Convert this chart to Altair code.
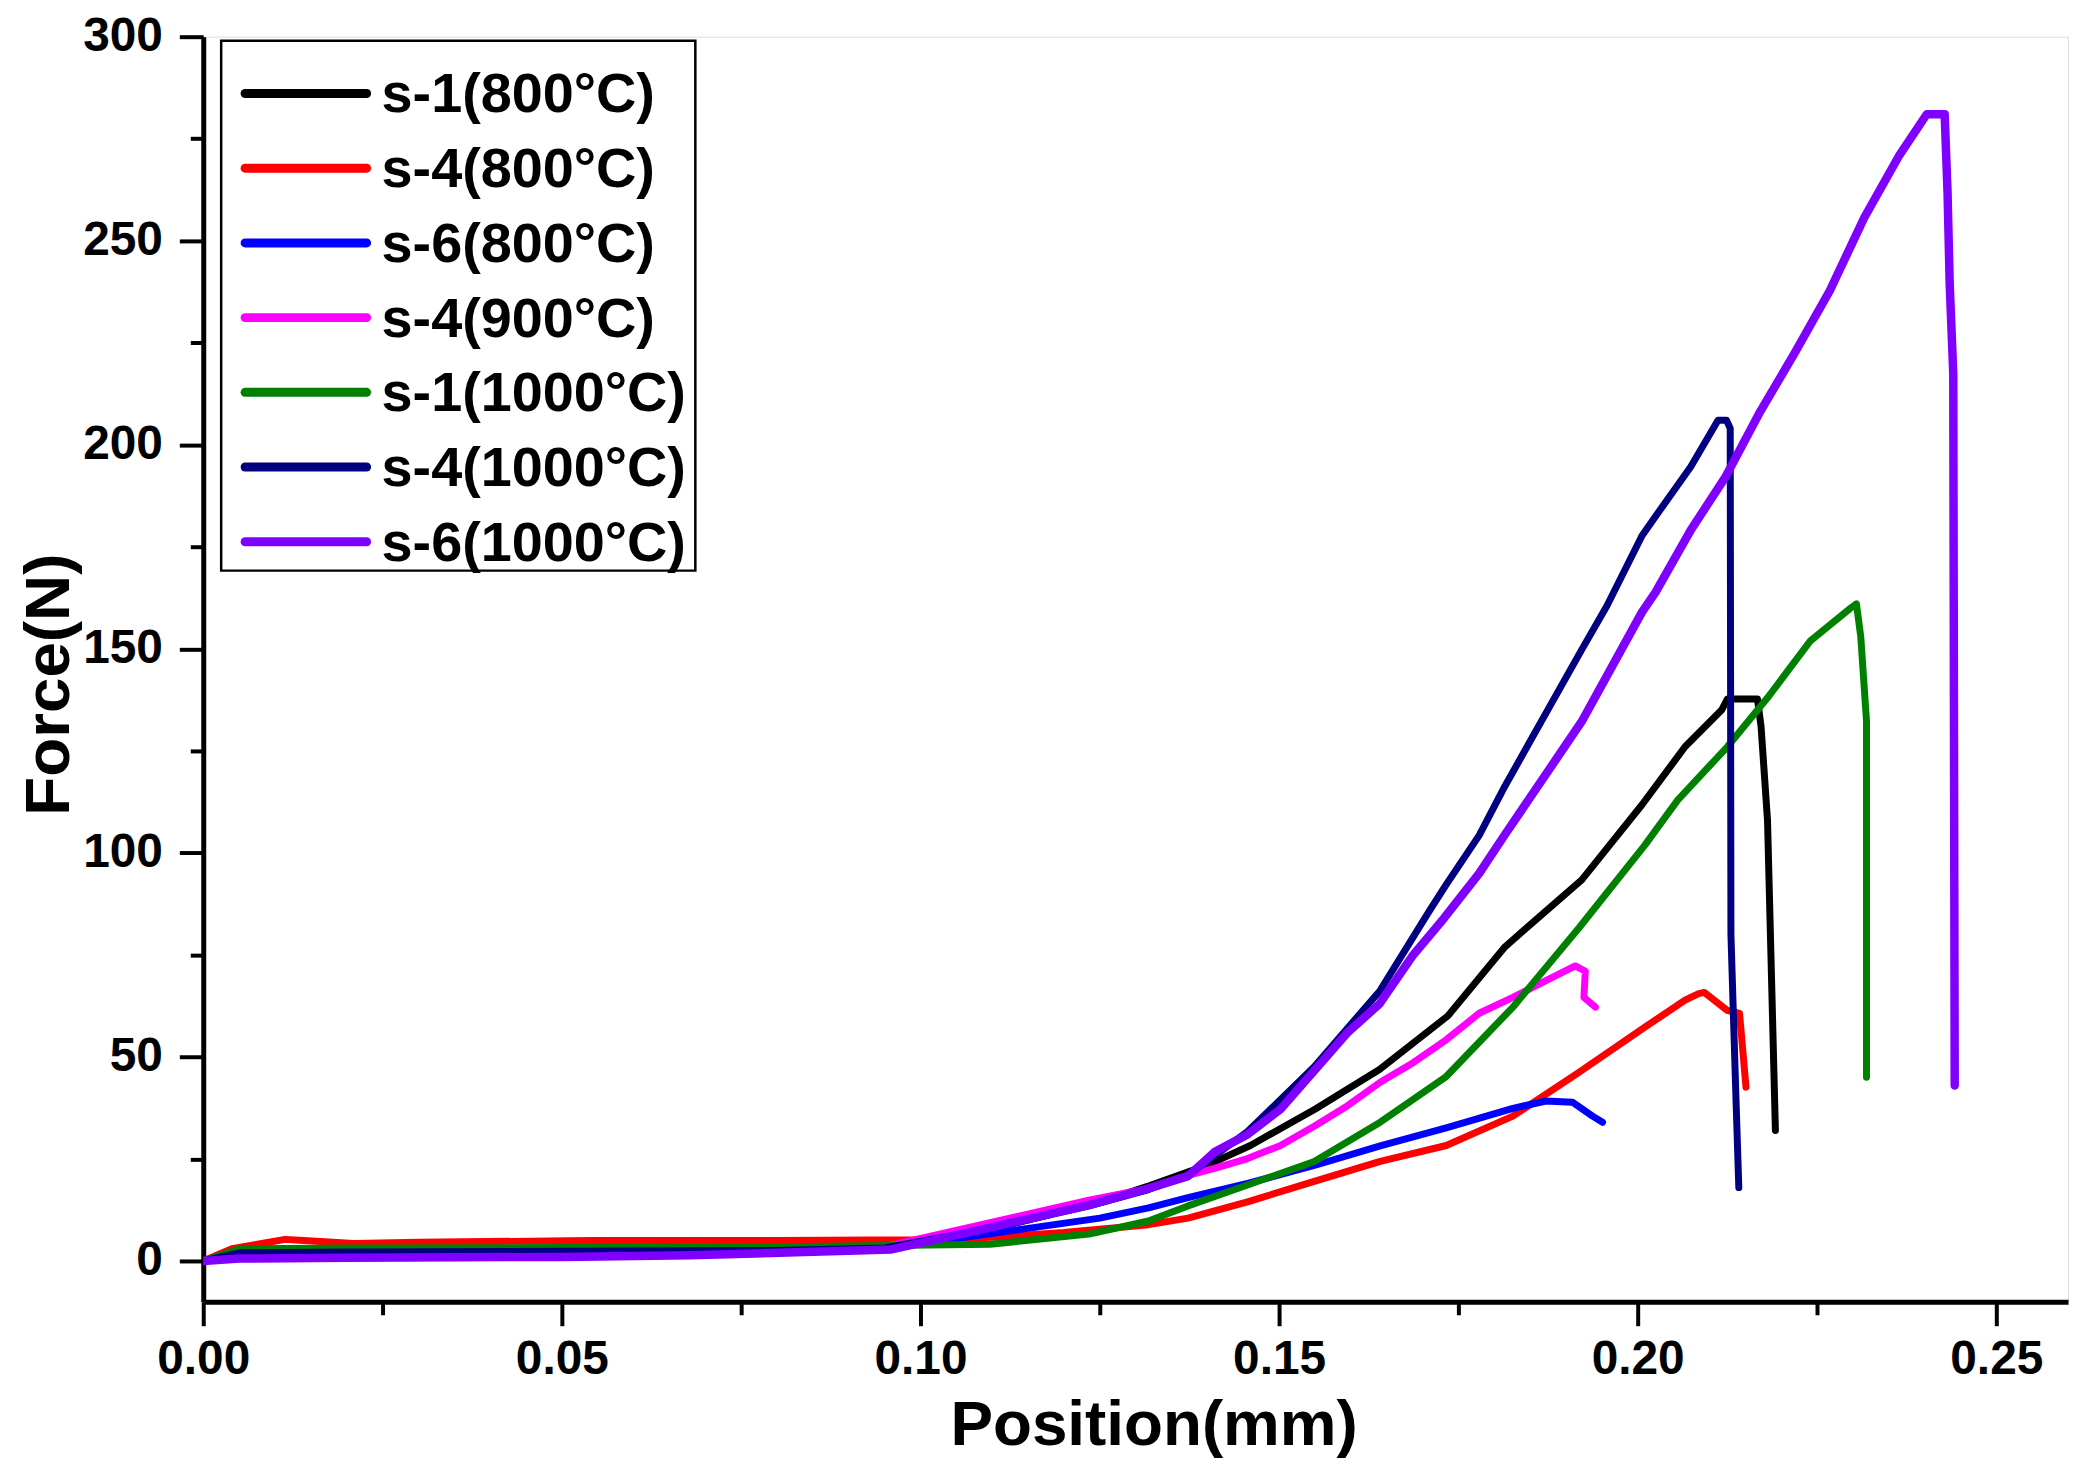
import altair as alt
import pandas as pd

# ---------------- data ----------------
names = ["s-1(800°C)", "s-4(800°C)", "s-6(800°C)", "s-4(900°C)",
         "s-1(1000°C)", "s-4(1000°C)", "s-6(1000°C)"]
colors = ["#000000", "#FF0000", "#0000FF", "#FF00FF", "#008000", "#000080", "#8000FF"]

x_s1_800 = [0.0, 0.005, 0.02, 0.05, 0.08, 0.095, 0.105, 0.115, 0.125, 0.132, 0.14, 0.146,
            0.155, 0.164, 0.1735, 0.1815, 0.1922, 0.2006, 0.2066, 0.2117, 0.2125, 0.2167,
            0.2172, 0.2181, 0.2192]
y_s1_800 = [0.0, 1.5, 2.0, 2.2, 2.5, 3.5, 6.0, 10.0, 14.5, 18.5, 23.5, 28.3,
            37.2, 46.9, 60.0, 77.0, 93.4, 111.8, 126.0, 135.0, 137.7, 137.7,
            131.0, 108.0, 32.0]

x_s4_800 = [0.0, 0.004, 0.0114, 0.014, 0.021, 0.03, 0.054, 0.08, 0.10, 0.11, 0.12, 0.1318,
            0.1373, 0.1456, 0.1549, 0.1641, 0.1733, 0.1826, 0.1918, 0.2010, 0.2066, 0.2085,
            0.2093, 0.2125, 0.2142, 0.2151]
y_s4_800 = [0.0, 3.0, 5.3, 5.0, 4.3, 4.6, 5.0, 5.0, 5.2, 5.8, 7.0, 8.9,
            10.5, 14.5, 19.5, 24.4, 28.3, 35.5, 46.2, 57.3, 63.9, 65.5,
            65.8, 61.4, 60.7, 42.6]

x_s6_800 = [0.0, 0.005, 0.02, 0.05, 0.08, 0.095, 0.105, 0.115, 0.125, 0.1318, 0.1373,
            0.1456, 0.1549, 0.1641, 0.1733, 0.1826, 0.1872, 0.1909, 0.1937, 0.1951]
y_s6_800 = [0.0, 1.5, 2.0, 2.2, 2.5, 3.5, 5.5, 8.0, 10.5, 13.0, 15.5,
            19.0, 23.4, 28.2, 32.6, 37.4, 39.2, 38.9, 35.5, 34.0]

x_s4_900 = [0.0, 0.005, 0.02, 0.05, 0.08, 0.095, 0.1097, 0.1235, 0.1318, 0.1373, 0.141,
            0.1456, 0.1502, 0.1549, 0.1595, 0.1641, 0.1687, 0.1733, 0.1779, 0.1826, 0.1872,
            0.1913, 0.1927, 0.1925, 0.1941]
y_s4_900 = [0.0, 1.0, 1.5, 1.8, 2.2, 3.5, 9.4, 14.9, 17.8, 21.0, 22.7,
            25.1, 28.3, 33.0, 38.0, 43.8, 48.6, 54.2, 60.7, 64.6, 68.7,
            72.3, 71.0, 64.6, 62.2]

x_s1_1000 = [0.0, 0.005, 0.02, 0.05, 0.08, 0.0958, 0.1097, 0.1235, 0.1318, 0.1373, 0.1456,
             0.1549, 0.1641, 0.1733, 0.1826, 0.1918, 0.2010, 0.2056, 0.2125, 0.2181, 0.2241,
             0.2297, 0.2305, 0.2311, 0.2319, 0.2319]
y_s1_1000 = [0.0, 3.0, 3.2, 3.3, 3.5, 3.8, 4.1, 6.6, 9.8, 13.5, 18.6,
             24.4, 34.0, 45.2, 62.2, 81.6, 101.9, 113.0, 126.0, 138.0, 152.0,
             160.0, 161.0, 153.0, 132.4, 45.0]

x_s4_1000 = [0.0, 0.005, 0.02, 0.05, 0.08, 0.095, 0.1097, 0.1235, 0.1318, 0.1373, 0.1456,
             0.1549, 0.1641, 0.1710, 0.1733, 0.1779, 0.1815, 0.1922, 0.1957, 0.2006, 0.2025,
             0.2074, 0.2112, 0.2124, 0.2129, 0.2130, 0.2137, 0.2141]
y_s4_1000 = [0.0, 2.0, 2.2, 2.4, 2.6, 3.2, 8.0, 13.5, 17.5, 21.0, 31.7,
             47.6, 66.3, 85.9, 92.2, 104.3, 116.4, 149.8, 160.5, 177.7, 182.5,
             194.6, 206.0, 206.0, 204.0, 80.0, 40.0, 18.0]

x_s6_1000 = [0.0, 0.005, 0.02, 0.05, 0.068, 0.0958, 0.1097, 0.1235, 0.1318, 0.1373, 0.141,
             0.1456, 0.1502, 0.1595, 0.164, 0.1687, 0.173, 0.1779, 0.1815, 0.1922, 0.2006,
             0.2025, 0.2074, 0.2122, 0.2171, 0.2219, 0.2268, 0.2316, 0.2365, 0.2403, 0.2428,
             0.2432, 0.2435, 0.2440, 0.2442]
y_s6_1000 = [0.0, 0.6, 0.8, 1.0, 1.4, 2.8, 8.2, 13.7, 17.8, 20.8, 26.7,
             31.0, 37.2, 55.9, 63.0, 75.0, 84.0, 95.0, 104.5, 132.2, 159.0,
             163.9, 179.1, 192.0, 208.2, 222.5, 237.8, 255.7, 271.0, 281.0, 281.0,
             262.0, 239.5, 217.4, 43.0]

series_x = [x_s1_800, x_s4_800, x_s6_800, x_s4_900, x_s1_1000, x_s4_1000, x_s6_1000]
series_y = [y_s1_800, y_s4_800, y_s6_800, y_s4_900, y_s1_1000, y_s4_1000, y_s6_1000]
widths = [7, 7, 7, 7, 7, 7, 8.5]

x_ticks = [round(i * 0.025, 3) for i in range(11)]
y_ticks = [i * 25 for i in range(13)]

FONT = "Liberation Sans"
W, H = 1872, 1270
color_scale = alt.Scale(domain=names, range=colors)

x_axis = alt.Axis(
    values=x_ticks, title="Position(mm)", grid=False,
    labelExpr="round(datum.value*1000) % 50 == 0 ? format(datum.value, '.2f') : ''",
    tickSize={"condition": {"test": "round(datum.value*1000) % 50 == 0", "value": 24}, "value": 13},
    tickWidth=4, tickColor="black", domainWidth=5, domainColor="black",
    labelFont=FONT, labelFontWeight="bold", labelFontSize=48, labelColor="black",
    labelPadding=10, labelFlush=False, labelOverlap=False,
    titleFont=FONT, titleFontWeight="bold", titleFontSize=64, titleColor="black",
    titlePadding=10, titleX=954,
)
y_axis = alt.Axis(
    values=y_ticks, title="Force(N)", grid=False,
    labelExpr="datum.value % 50 == 0 ? format(datum.value, 'd') : ''",
    tickSize={"condition": {"test": "datum.value % 50 == 0", "value": 24}, "value": 13},
    tickWidth=4, tickColor="black", domainWidth=5, domainColor="black",
    labelFont=FONT, labelFontWeight="bold", labelFontSize=48, labelColor="black",
    labelPadding=17, labelFlush=False, labelOverlap=False,
    titleFont=FONT, titleFontWeight="bold", titleFontSize=64, titleColor="black",
    titlePadding=1, titleY=650,
)

layers = []
for name, xs, ys, w in zip(names, series_x, series_y, widths):
    df = pd.DataFrame({"Position": xs, "Force": ys, "series": name, "i": range(len(xs))})
    layers.append(
        alt.Chart(df).mark_line(strokeWidth=w, strokeJoin="round", strokeCap="round", clip=True).encode(
            x=alt.X("Position:Q", scale=alt.Scale(domain=[0, 0.26], nice=False, zero=False), axis=x_axis),
            y=alt.Y("Force:Q", scale=alt.Scale(domain=[-10, 300], nice=False, zero=False), axis=y_axis),
            color=alt.Color("series:N", scale=color_scale, legend=None),
            order=alt.Order("i:Q"),
        )
    )
main = alt.layer(*layers)

# ---------------- hand-built legend box ----------------
leg_df = pd.DataFrame({"series": names, "k": list(range(len(names)))})
box = alt.Chart(pd.DataFrame({"a": [0]})).mark_rect(
    fill="white", stroke="black", strokeWidth=2.5
).encode(x=alt.value(18), x2=alt.value(494), y=alt.value(4), y2=alt.value(536))

leg_y = alt.Y("k:Q", scale=alt.Scale(domain=[0, 6], range=[57, 507]), axis=None)
leg_lines = alt.Chart(leg_df).mark_rule(strokeWidth=9, strokeCap="round").encode(
    x=alt.value(42), x2=alt.value(164), y=leg_y,
    color=alt.Color("series:N", scale=color_scale, legend=None),
)
leg_text = alt.Chart(leg_df).mark_text(
    align="left", baseline="middle", font=FONT, fontWeight="bold", fontSize=56, color="black", dy=2
).encode(x=alt.value(179), y=leg_y, text="series:N")
legend = alt.layer(leg_lines, leg_text)

chart = alt.layer(main, box, legend).resolve_scale(y="independent").properties(
    width=W, height=H,
    autosize=alt.AutoSizeParams(type="none"),
    padding={"left": 196, "top": 26, "right": 7, "bottom": 154},
).configure_view(stroke="black", strokeWidth=5).configure(background="white")

chart.save("out.html", embed_options={"renderer": "svg", "actions": False})
